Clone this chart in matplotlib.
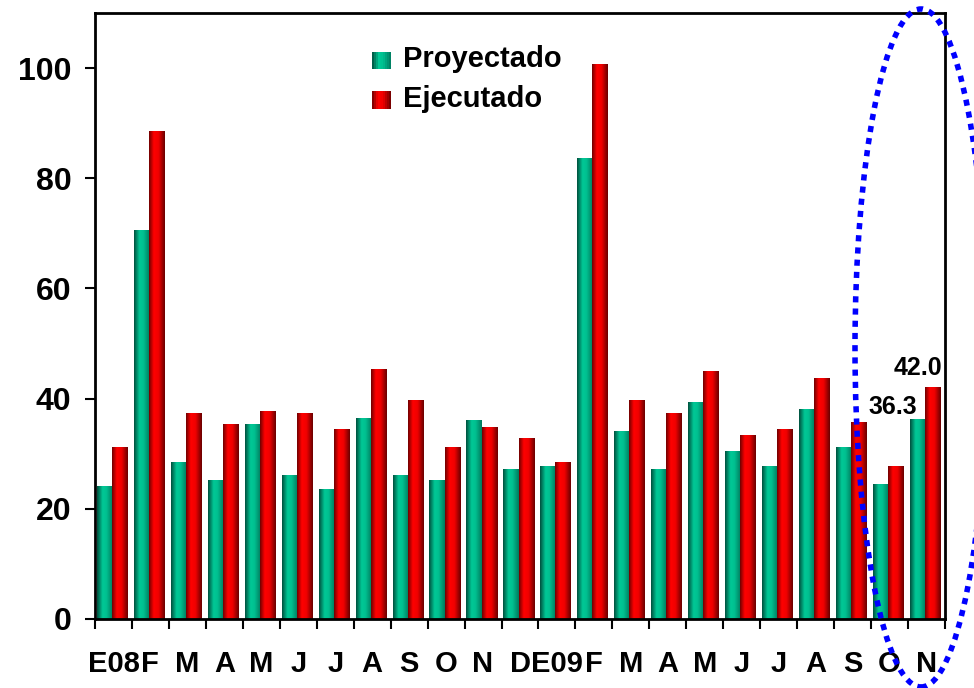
"""Proyectado vs Ejecutado monthly bars, 2008-2009."""

import matplotlib

matplotlib.use("Agg")
import matplotlib.pyplot as plt
import numpy as np
from matplotlib.colors import LinearSegmentedColormap
from matplotlib.legend_handler import HandlerBase
from matplotlib.patches import Ellipse, Rectangle

months = ["E08", "F", "M", "A", "M", "J", "J", "A", "S", "O", "N", "D",
          "E09", "F", "M", "A", "M", "J", "J", "A", "S", "O", "N"]
proyectado = [24.0, 70.5, 28.4, 25.1, 35.3, 26.0, 23.5, 36.4, 26.0, 25.1, 36.0, 27.1,
              27.6, 83.5, 34.0, 27.1, 39.3, 30.4, 27.6, 38.0, 31.1, 24.4, 36.3]
ejecutado = [31.1, 88.4, 37.3, 35.3, 37.6, 37.3, 34.4, 45.3, 39.6, 31.1, 34.7, 32.7,
             28.4, 100.7, 39.6, 37.3, 44.9, 33.3, 34.4, 43.6, 35.6, 27.6, 42.0]
yticks = [0, 20, 40, 60, 80, 100]

plt.rcParams["font.family"] = ["Liberation Sans", "DejaVu Sans"]
plt.rcParams["font.weight"] = "bold"

green_cm = LinearSegmentedColormap.from_list(
    "g", [(0, "#00503e"), (0.35, "#00c896"), (0.6, "#00c090"), (1, "#007a5e")])
red_cm = LinearSegmentedColormap.from_list(
    "r", [(0, "#700000"), (0.3, "#ff0000"), (0.6, "#f00000"), (1, "#6a0000")])
grad = np.linspace(0, 1, 64).reshape(1, -1)


class GradHandler(HandlerBase):
    def __init__(self, cmap):
        super().__init__()
        self.cmap = cmap

    def create_artists(self, legend, orig, xd, yd, w, h, fs, trans):
        n = 10
        return [Rectangle((xd + w * k / n, yd), w / n + 0.3, h,
                          facecolor=self.cmap((k + 0.5) / n), edgecolor="none",
                          transform=trans) for k in range(n)]


fig = plt.figure(figsize=(9.74, 6.88), dpi=100)
ax = fig.add_axes([95 / 974, 1 - 619 / 688, 850 / 974, 606 / 688])

x = np.arange(len(months))
w = 0.41
shift = -0.04
b1 = ax.bar(x + shift - w / 2, proyectado, w, color="#00b080", label="Proyectado")
b2 = ax.bar(x + shift + w / 2, ejecutado, w, color="#e00000", label="Ejecutado")
for bars, cm in ((b1, green_cm), (b2, red_cm)):
    for bar in bars:
        x0, h = bar.get_x(), bar.get_height()
        ax.imshow(grad, cmap=cm, aspect="auto", extent=[x0, x0 + bar.get_width(), 0, h],
                  zorder=2, interpolation="bilinear")

ax.set_xlim(-0.5, len(months) - 0.5)
ax.set_ylim(0, 110)
ax.set_yticks(yticks)
ax.tick_params(axis="y", labelsize=23, length=7, width=1.5, pad=10, direction="out")
ax.set_xticks(x)
ax.set_xticklabels(months)
ax.set_xticks(np.arange(len(months) + 1) - 0.5, minor=True)
ax.tick_params(axis="x", which="major", length=0, labelsize=21, pad=22)
ax.tick_params(axis="x", which="minor", length=7, width=1.5, direction="out")
for s in ax.spines.values():
    s.set_linewidth(2)

ax.text(22 - 0.91, 38.5, "36.3", ha="center", va="center", fontsize=18, fontweight="bold")
ax.text(22 - 0.23, 45.5, "42.0", ha="center", va="center", fontsize=18, fontweight="bold")

ax.legend(handles=[b1, b2], handler_map={b1: GradHandler(green_cm), b2: GradHandler(red_cm)},
          loc="upper left", bbox_to_anchor=((372 - 95) / 850, 1 - (45 - 13) / 606),
          frameon=False, borderpad=0, borderaxespad=0,
          handlelength=0.65, handleheight=0.52, handletextpad=0.42, labelspacing=0.4,
          prop={"weight": "bold", "size": 21})

ell = Ellipse((921 / 974, 1 - 348 / 688), 132 / 974, 678 / 688, angle=0,
              transform=fig.transFigure, fill=False, edgecolor="#0000ff",
              linewidth=4, linestyle=(0, (1.1, 1.1)), clip_on=False)
fig.patches.append(ell)

fig.savefig("out.png", dpi=100)
